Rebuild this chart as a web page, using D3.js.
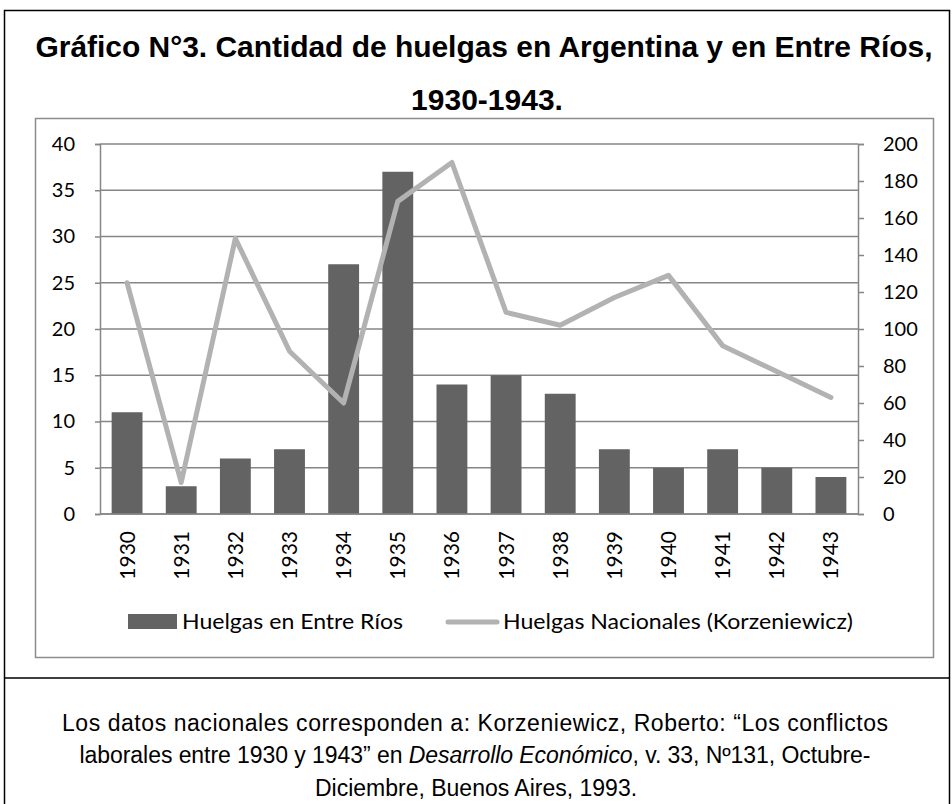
<!DOCTYPE html>
<html>
<head>
<meta charset="utf-8">
<script src="https://cdn.jsdelivr.net/npm/d3@7"></script>
<style>
  body { margin: 0; background: #fff; }
  svg { display: block; }
</style>
</head>
<body>
<div id="chart"></div>
<script>
const years = ['1930','1931','1932','1933','1934','1935','1936','1937','1938','1939','1940','1941','1942','1943'];
const entreRios = [11, 3, 6, 7, 27, 37, 14, 15, 13, 7, 5, 7, 5, 4];
const nacionales = [125, 17, 149, 88, 60, 169, 190, 109, 102, 117, 129, 91, 77, 63];
const leftTicks = [0, 5, 10, 15, 20, 25, 30, 35, 40];
const rightTicks = [0, 20, 40, 60, 80, 100, 120, 140, 160, 180, 200];

const W = 952, H = 804;
const plot = {left: 100, right: 858, top: 144, bottom: 514};
const axisFont = 'Lato, "Open Sans", sans-serif';
const textFont = '"Liberation Sans", Arial, sans-serif';
const gridColor = '#868686';
const barColor = '#636363';
const lineColor = '#b2b2b2';

const svg = d3.select('#chart').append('svg')
    .attr('width', W)
    .attr('height', H);

// outer table borders
svg.append('rect')
    .attr('x', 4.5).attr('y', 10.5)
    .attr('width', 945).attr('height', 820)
    .attr('fill', 'none')
    .attr('stroke', '#000')
    .attr('stroke-width', 1.5);

svg.append('line')
    .attr('x1', 4).attr('x2', 950)
    .attr('y1', 678).attr('y2', 678)
    .attr('stroke', '#000')
    .attr('stroke-width', 1.5);

// chart frame
svg.append('rect')
    .attr('x', 35.5).attr('y', 118.5)
    .attr('width', 898).attr('height', 539)
    .attr('fill', '#fff')
    .attr('stroke', '#8c8c8c')
    .attr('stroke-width', 1.5);

// title
const title = svg.append('g')
    .attr('font-family', textFont)
    .attr('font-weight', 'bold')
    .attr('font-size', 30)
    .attr('text-anchor', 'middle')
    .attr('fill', '#000');
title.append('text').attr('x', 484).attr('y', 57)
    .attr('textLength', 897)
    .text('Gráfico N°3. Cantidad de huelgas en Argentina y en Entre Ríos,');
title.append('text').attr('x', 487).attr('y', 110)
    .text('1930-1943.');

// scales
const x = d3.scaleBand()
    .domain(years)
    .range([plot.left, plot.right])
    .paddingInner(0.43)
    .paddingOuter(0.215);

const yLeft = d3.scaleLinear().domain([0, 40]).range([plot.bottom, plot.top]);
const yRight = d3.scaleLinear().domain([0, 200]).range([plot.bottom, plot.top]);

// gridlines
svg.append('g')
  .selectAll('line')
    .data(leftTicks)
  .enter().append('line')
    .attr('x1', plot.left).attr('x2', plot.right)
    .attr('y1', d => yLeft(d)).attr('y2', d => yLeft(d))
    .attr('stroke', gridColor)
    .attr('stroke-width', 1.5);

// left axis
const leftAxis = svg.append('g')
    .attr('transform', `translate(${plot.left},0)`)
    .call(d3.axisLeft(yLeft).tickValues(leftTicks).tickSize(5).tickPadding(20));
leftAxis.select('.domain').attr('stroke', gridColor).attr('stroke-width', 1.5);
leftAxis.selectAll('.tick line').attr('stroke', gridColor).attr('stroke-width', 1.5);
leftAxis.selectAll('text')
    .attr('font-family', axisFont)
    .attr('font-size', 20)
    .attr('fill', '#000');

// right axis
const rightAxis = svg.append('g')
    .attr('transform', `translate(${plot.right},0)`)
    .call(d3.axisRight(yRight).tickValues(rightTicks).tickSize(6).tickPadding(19));
rightAxis.select('.domain').attr('stroke', gridColor).attr('stroke-width', 1.5);
rightAxis.selectAll('.tick line').attr('stroke', gridColor).attr('stroke-width', 1.5);
rightAxis.selectAll('text')
    .attr('font-family', axisFont)
    .attr('font-size', 20)
    .attr('fill', '#000');

// bars
svg.append('g')
  .selectAll('rect')
    .data(entreRios)
  .enter().append('rect')
    .attr('x', (d, i) => x(years[i]))
    .attr('y', d => yLeft(d))
    .attr('width', x.bandwidth())
    .attr('height', d => yLeft(0) - yLeft(d))
    .attr('fill', barColor);

// bottom axis line
svg.append('line')
    .attr('x1', plot.left).attr('x2', plot.right)
    .attr('y1', plot.bottom).attr('y2', plot.bottom)
    .attr('stroke', gridColor)
    .attr('stroke-width', 1.5);

// line series
const line = d3.line()
    .x((d, i) => x(years[i]) + x.bandwidth() / 2)
    .y(d => yRight(d));

svg.append('path')
    .datum(nacionales)
    .attr('d', line)
    .attr('fill', 'none')
    .attr('stroke', lineColor)
    .attr('stroke-width', 5)
    .attr('stroke-linejoin', 'round')
    .attr('stroke-linecap', 'round');

// year labels
svg.append('g')
  .selectAll('text')
    .data(years)
  .enter().append('text')
    .attr('transform', d => `translate(${x(d) + x.bandwidth() / 2},531) rotate(-90)`)
    .attr('dy', '0.36em')
    .attr('text-anchor', 'end')
    .attr('font-family', axisFont)
    .attr('font-size', 21)
    .attr('fill', '#000')
    .text(d => d);

// legend
const legend = svg.append('g')
    .attr('font-family', axisFont)
    .attr('font-size', 21)
    .attr('fill', '#000');
legend.append('rect')
    .attr('x', 128).attr('y', 614)
    .attr('width', 49).attr('height', 15)
    .attr('fill', barColor);
legend.append('text').attr('x', 182).attr('y', 629)
    .attr('textLength', 221)
    .attr('lengthAdjust', 'spacingAndGlyphs')
    .text('Huelgas en Entre Ríos');
legend.append('line')
    .attr('x1', 448).attr('x2', 497)
    .attr('y1', 622).attr('y2', 622)
    .attr('stroke', lineColor)
    .attr('stroke-width', 5)
    .attr('stroke-linecap', 'round');
legend.append('text').attr('x', 503).attr('y', 629)
    .attr('textLength', 350)
    .attr('lengthAdjust', 'spacingAndGlyphs')
    .text('Huelgas Nacionales (Korzeniewicz)');

// footnote
const note = svg.append('g')
    .attr('font-family', textFont)
    .attr('font-size', 23)
    .attr('text-anchor', 'middle')
    .attr('fill', '#000');
note.append('text').attr('x', 475).attr('y', 731)
    .attr('textLength', 826)
    .text('Los datos nacionales corresponden a: Korzeniewicz, Roberto: “Los conflictos');
const l2 = note.append('text').attr('x', 475).attr('y', 763)
    .attr('textLength', 791);
l2.append('tspan').text('laborales entre 1930 y 1943” en ');
l2.append('tspan').attr('font-style', 'italic').text('Desarrollo Económico');
l2.append('tspan').text(', v. 33, Nº131, Octubre-');
note.append('text').attr('x', 476).attr('y', 796)
    .text('Diciembre, Buenos Aires, 1993.');
</script>
</body>
</html>
